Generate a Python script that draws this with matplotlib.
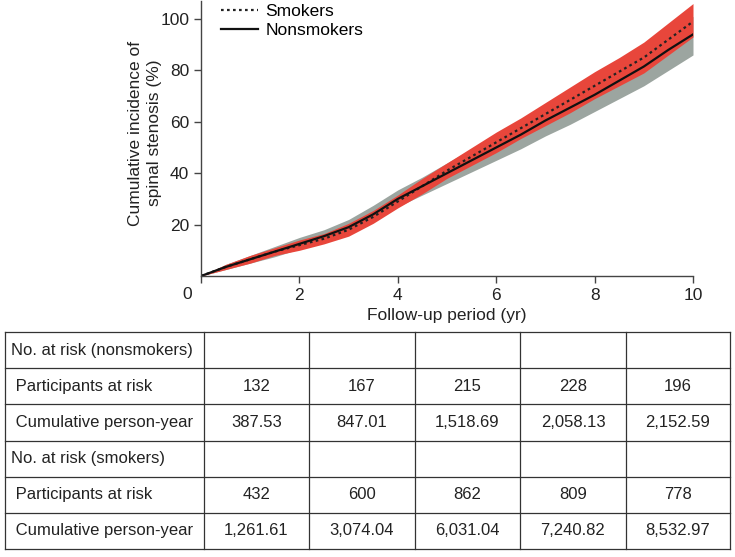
import matplotlib.pyplot as plt
import numpy as np

plt.rcParams['font.family'] = ['Liberation Sans', 'DejaVu Sans']

# follow-up time (yr) and cumulative incidence (%)
t = [0, 0.5, 1, 1.5, 2, 2.5, 3, 3.5, 4, 4.5, 5, 5.5, 6, 6.5, 7, 7.5, 8, 8.5, 9, 9.5, 10]
smk = [0, 3.5, 6.5, 9.5, 12, 14.5, 18, 23, 29, 35, 41, 46.5, 52, 57.5, 63, 68.5, 74, 79.5, 85, 92, 99]
smk_lo = [0, 2.5, 5, 8, 10, 12.5, 15.5, 20.5, 26.5, 32, 38, 43, 48, 53.5, 58.5, 63.5, 69, 74, 79, 86, 93]
smk_hi = [0, 4.5, 8, 11, 14, 16.5, 20.5, 25.5, 31.5, 38, 44, 50, 56, 61.5, 67.5, 73.5, 79.5, 85, 91, 98.5, 106]
non = [0, 3.5, 6.5, 9.5, 12.5, 15.5, 19, 24, 30, 35, 40, 45, 50, 55, 60.5, 65.5, 70.5, 76, 81.5, 88, 94]
non_lo = [0, 2.5, 5, 7.5, 10.5, 13, 16.5, 21, 27, 31.5, 36, 40.5, 45, 49.5, 54.5, 59, 64, 69, 74, 80, 86]
non_hi = [0, 4.5, 8, 11.5, 15, 18, 22, 27.5, 33.5, 38.5, 44, 49.5, 55, 60.5, 66, 71.5, 77, 83, 89, 95, 101]

# number-at-risk table
row_labels = ['No. at risk (nonsmokers)', ' Participants at risk', ' Cumulative person-year',
              'No. at risk (smokers)', ' Participants at risk', ' Cumulative person-year']
non_risk = ['132', '167', '215', '228', '196']
non_py = ['387.53', '847.01', '1,518.69', '2,058.13', '2,152.59']
smk_risk = ['432', '600', '862', '809', '778']
smk_py = ['1,261.61', '3,074.04', '6,031.04', '7,240.82', '8,532.97']
cells = [[''] * 5, non_risk, non_py, [''] * 5, smk_risk, smk_py]

W, H = 735, 557
fig = plt.figure(figsize=(W / 100, H / 100), dpi=100)
ax = fig.add_axes([201 / W, 1 - 276 / H, (693 - 201) / W, 275 / H])

ax.fill_between(t, non_lo, non_hi, color='#9ca5a0', lw=0)
ax.fill_between(t, smk_lo, smk_hi, color='#e8463b', lw=0)
ax.plot(t, smk, color='#222222', lw=1.6, ls=(0, (1.2, 1.5)), label='Smokers')
ax.plot(t, non, color='#111111', lw=1.6, label='Nonsmokers')

ax.set_xlim(0, 10)
ax.set_ylim(0, 107)
ax.set_xticks([0, 2, 4, 6, 8, 10])
ax.set_xticklabels(['', '2', '4', '6', '8', '10'])
ax.set_yticks([20, 40, 60, 80, 100])
ax.tick_params(labelsize=12.5, length=5, width=1, color='#444444', labelcolor='#222222')
ax.annotate('0', xy=(0, 0), xytext=(-10, -8), textcoords='offset points',
            ha='center', va='top', fontsize=12.5, color='#222222')
for s in ['top', 'right']:
    ax.spines[s].set_visible(False)
for s in ['left', 'bottom']:
    ax.spines[s].set_color('#444444')
    ax.spines[s].set_linewidth(1)
ax.set_xlabel('Follow-up period (yr)', fontsize=12.5, color='#222222', labelpad=4)
ax.set_ylabel('Cumulative incidence of\nspinal stenosis (%)', fontsize=12.5, color='#222222',
              linespacing=1.3)
ax.yaxis.set_label_coords(-0.08, 0.52)
ax.legend(loc='upper left', bbox_to_anchor=(0.027, 1.015), frameon=False, fontsize=12.5,
          handlelength=2.1, handletextpad=0.45, labelspacing=0.2, borderaxespad=0)

# table
tab = fig.add_axes([5 / W, 1 - 549 / H, 725 / W, 217 / H])
tab.set_xlim(5, 730)
tab.set_ylim(6, 0)
tab.axis('off')
cols = [5, 204, 309, 415, 520, 626, 730]
for x in cols:
    tab.plot([x, x], [0, 6], color='#333333', lw=0.9, clip_on=False)
for y in range(7):
    tab.plot([5, 730], [y, y], color='#333333', lw=0.9, clip_on=False)
for i, lab in enumerate(row_labels):
    tab.text(11, i + 0.5, lab, ha='left', va='center', fontsize=12, color='#222222')
    for j, v in enumerate(cells[i]):
        tab.text((cols[j + 1] + cols[j + 2]) / 2, i + 0.5, v, ha='center', va='center',
                 fontsize=12, color='#222222')

fig.savefig('out.png', dpi=100)
